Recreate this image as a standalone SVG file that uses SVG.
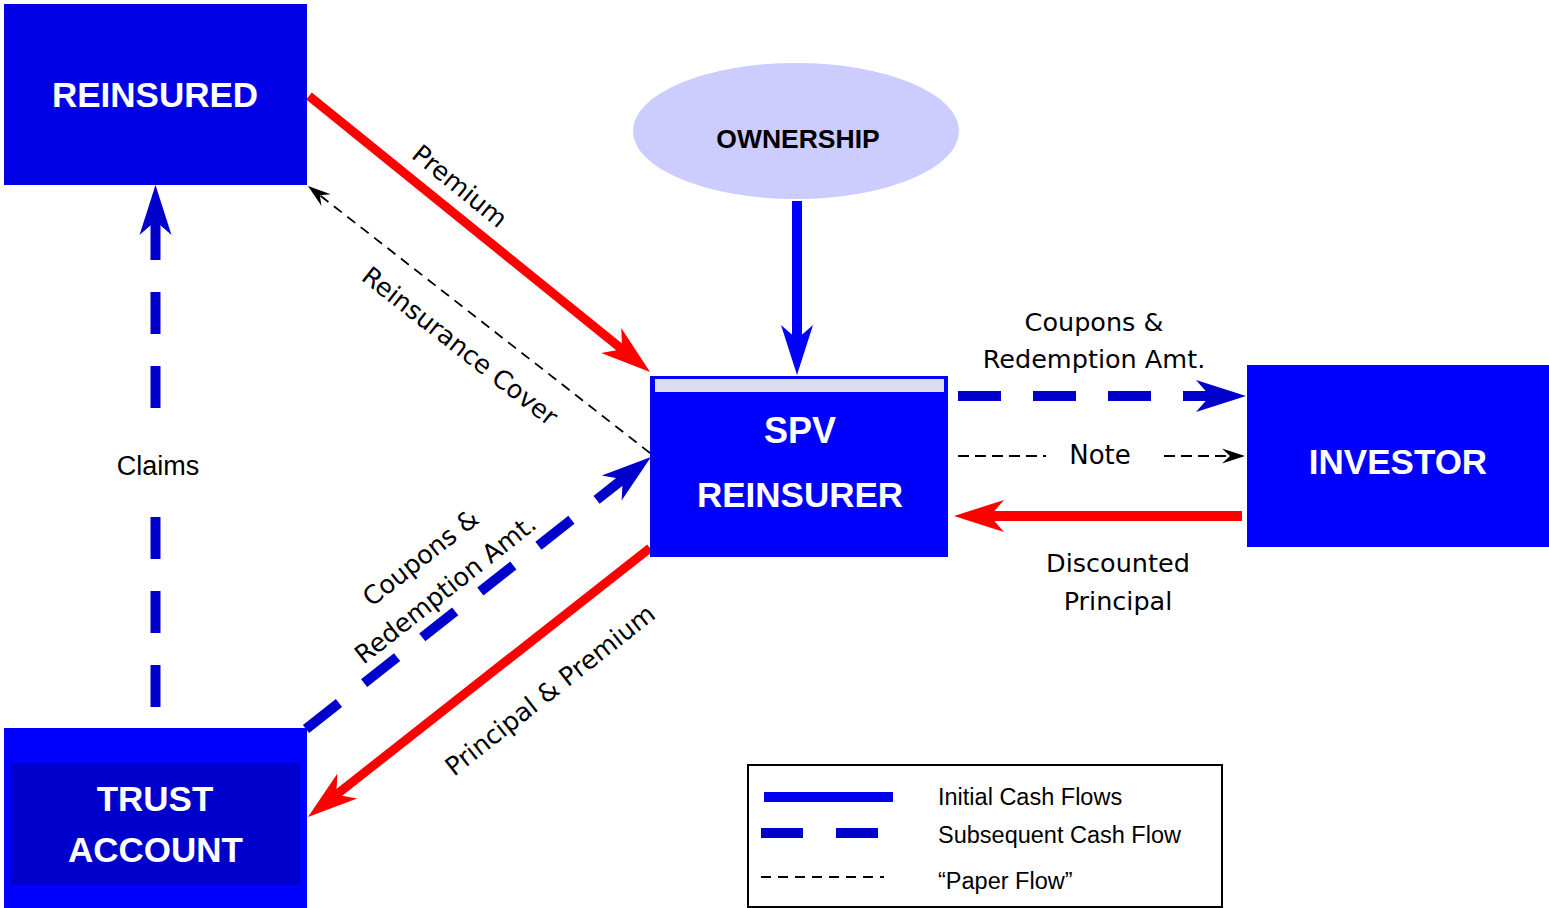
<svg xmlns="http://www.w3.org/2000/svg" width="1549" height="908" viewBox="0 0 1549 908">
<style>
.box{fill:#0000FF}
.lbl{font-family:"Liberation Sans",Arial,sans-serif;font-weight:bold;fill:#FFFFFF;text-anchor:middle}
.t{font-family:"DejaVu Sans",sans-serif;font-size:25.5px;fill:#000;text-anchor:middle}
.c{font-family:"Liberation Sans",Arial,sans-serif;fill:#000}
.red{stroke:#FF0000;stroke-width:9;fill:none}
.blue{stroke:#0000FF;stroke-width:10;fill:none}
.dblue{stroke:#0000CC;stroke-width:10;fill:none;stroke-dasharray:42 32}
.paper{stroke:#000;stroke-width:1.8;fill:none;stroke-dasharray:10 7}
</style>
<defs>
<marker id="aRed" markerUnits="userSpaceOnUse" viewBox="-16 -18 56 36" markerWidth="56" markerHeight="36" refX="0" refY="0" orient="auto" overflow="visible"><path d="M36,0 L-14,-16 L0,0 L-14,16 Z" fill="#FF0000"/></marker>
<marker id="aBlue" markerUnits="userSpaceOnUse" viewBox="-16 -18 56 36" markerWidth="56" markerHeight="36" refX="0" refY="0" orient="auto" overflow="visible"><path d="M36,0 L-14,-16 L0,0 L-14,16 Z" fill="#0000FF"/></marker>
<marker id="aDBlue" markerUnits="userSpaceOnUse" viewBox="-16 -18 56 36" markerWidth="56" markerHeight="36" refX="0" refY="0" orient="auto" overflow="visible"><path d="M36,0 L-14,-16 L0,0 L-14,16 Z" fill="#0000CC"/></marker>
<marker id="aBlack" markerUnits="userSpaceOnUse" viewBox="-10 -9 28 18" markerWidth="28" markerHeight="18" refX="0" refY="0" orient="auto" overflow="visible"><path d="M15,0 L-8,-7.5 L0,0 L-8,7.5 Z" fill="#000"/></marker>
</defs>
<rect width="1549" height="908" fill="#FFFFFF"/>

<g id="connectors">
<line x1="797" y1="201" x2="797" y2="339" class="blue" marker-end="url(#aBlue)"/>
<line x1="309" y1="96" x2="622.1" y2="349.3" class="red" marker-end="url(#aRed)"/>
<line x1="650" y1="453" x2="319.8" y2="195.2" class="paper" marker-end="url(#aBlack)"/>
<line x1="306" y1="729" x2="622.7" y2="479.3" class="dblue" marker-end="url(#aDBlue)"/>
<line x1="650" y1="548" x2="336.3" y2="794.7" class="red" marker-end="url(#aRed)"/>
<line x1="155.5" y1="707" x2="155.5" y2="515" class="dblue"/>
<line x1="155.5" y1="408" x2="155.5" y2="221" class="dblue" marker-end="url(#aDBlue)"/>
<line x1="958" y1="396" x2="1210" y2="396" class="dblue" style="stroke-dasharray:43 32" marker-end="url(#aDBlue)"/>
<line x1="958" y1="456" x2="1046" y2="456" class="paper" style="stroke-dasharray:11 6"/>
<line x1="1164" y1="456" x2="1230" y2="456" class="paper" style="stroke-dasharray:11 6" marker-end="url(#aBlack)"/>
<line x1="1242" y1="516" x2="990" y2="516" class="red" style="stroke-width:10" marker-end="url(#aRed)"/>

<text class="t" transform="translate(460,186) rotate(39.2)" y="9">Premium</text>
<text class="t" transform="translate(460,346) rotate(38)" y="9">Reinsurance Cover</text>
<g transform="translate(433.5,574) rotate(-38.3)">
<text class="t" y="-12">Coupons &amp;</text>
<text class="t" y="28">Redemption Amt.</text>
</g>
<text class="t" transform="translate(550,690) rotate(-38.2)" y="9">Principal &amp; Premium</text>
<text class="t" x="1094" y="331">Coupons &amp;</text>
<text class="t" x="1094" y="368">Redemption Amt.</text>
<text class="t" x="1100" y="464" style="font-size:26px">Note</text>
<text class="t" x="1118" y="572">Discounted</text>
<text class="t" x="1118" y="610">Principal</text>
<text class="c" x="158" y="475" style="font-size:27px;text-anchor:middle">Claims</text>
</g>

<g id="reinsured">
<rect x="4" y="4" width="303" height="181" fill="#0000E6"/>
<text class="lbl" x="155" y="107" style="font-size:35px">REINSURED</text>
</g>

<g id="ownership">
<ellipse cx="796" cy="131" rx="163" ry="68" fill="#CCCCFF"/>
<text class="lbl" x="798" y="148" style="font-size:26.5px;fill:#000">OWNERSHIP</text>
</g>

<g id="spv">
<rect x="650" y="376" width="298" height="181" class="box"/>
<rect x="655" y="379" width="289" height="13" fill="#DCDCF0"/>
<text class="lbl" x="800" y="443" style="font-size:36px">SPV</text>
<text class="lbl" x="800" y="507" style="font-size:35px">REINSURER</text>
</g>

<g id="investor">
<rect x="1247" y="365" width="302" height="182" class="box"/>
<text class="lbl" x="1398" y="474" style="font-size:35px">INVESTOR</text>
</g>

<g id="trust">
<rect x="4" y="728" width="303" height="180" class="box"/>
<rect x="11" y="763" width="289" height="122" fill="#0000CC"/>
<text class="lbl" x="155" y="811" style="font-size:35px">TRUST</text>
<text class="lbl" x="155.5" y="862" style="font-size:35px">ACCOUNT</text>
</g>

<g id="legend">
<rect x="748" y="765" width="474" height="142" fill="none" stroke="#000" stroke-width="2"/>
<line x1="764" y1="797" x2="893" y2="797" stroke="#0000EE" stroke-width="10"/>
<line x1="761" y1="833" x2="878" y2="833" class="dblue" style="stroke-dasharray:42 33"/>
<line x1="761" y1="877" x2="884" y2="877" stroke="#000" stroke-width="2" stroke-dasharray="10 7"/>
<text class="c" x="938" y="805" style="font-size:23.5px">Initial Cash Flows</text>
<text class="c" x="938" y="843" style="font-size:23.5px">Subsequent Cash Flow</text>
<text class="c" x="938" y="889" style="font-size:23.5px">“Paper Flow”</text>
</g>
</svg>
